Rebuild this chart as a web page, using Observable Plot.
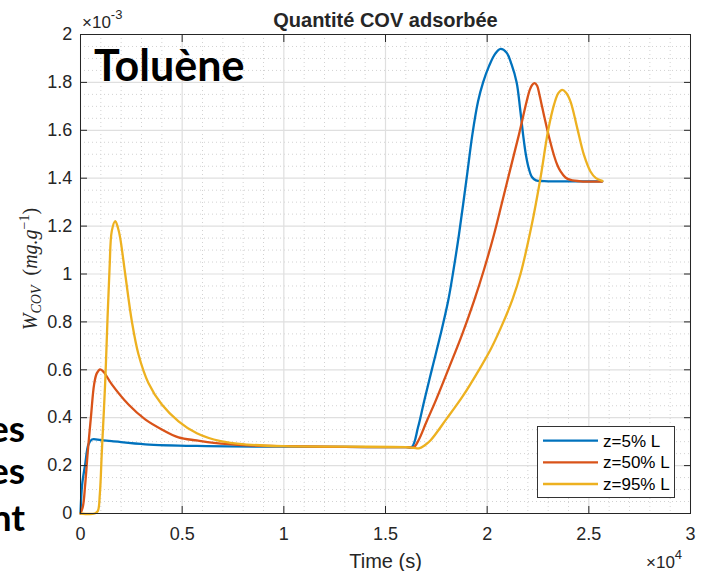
<!DOCTYPE html>
<html><head><meta charset="utf-8">
<script src="https://cdn.jsdelivr.net/npm/d3@7"></script>
<script src="https://cdn.jsdelivr.net/npm/@observablehq/plot@0.6"></script>
<style>body{margin:0;background:#fff;} #chart{position:relative;width:702px;height:571px;overflow:hidden}</style>
</head><body><div id="chart"></div>
<script>
// Series names and colours (MATLAB defaults)
const seriesNames = ["z=5% L", "z=50% L", "z=95% L"];
const seriesColors = ["#0072BD", "#D95319", "#EDB120"];

// Time in units of 1e4 s, W_COV in units of 1e-3 mg/g
const t5 = [0, 0.008, 0.023, 0.039, 0.056, 0.1, 0.154, 0.318, 0.57, 1.0, 1.3, 1.6, 1.63, 1.66, 1.69, 1.73, 1.771, 1.808, 1.835, 1.861, 1.899, 1.927, 1.955, 1.98, 2.01, 2.04, 2.066, 2.095, 2.12, 2.145, 2.162, 2.177, 2.19, 2.204, 2.22, 2.24, 2.28, 2.566];
const w5 = [0, 0.12, 0.205, 0.288, 0.309, 0.306, 0.302, 0.289, 0.282, 0.279, 0.278, 0.277, 0.278, 0.36, 0.469, 0.608, 0.748, 0.887, 1.02, 1.163, 1.4, 1.581, 1.72, 1.8, 1.87, 1.92, 1.94, 1.925, 1.875, 1.8, 1.69, 1.58, 1.5, 1.443, 1.405, 1.391, 1.388, 1.387];

const t50 = [0, 0.012, 0.023, 0.036, 0.051, 0.067, 0.08, 0.097, 0.115, 0.154, 0.236, 0.318, 0.40, 0.482, 0.572, 0.656, 0.82, 1.0, 1.3, 1.6, 1.64, 1.665, 1.70, 1.746, 1.812, 1.877, 1.935, 1.985, 2.033, 2.074, 2.115, 2.156, 2.194, 2.21, 2.222, 2.233, 2.245, 2.258, 2.271, 2.288, 2.304, 2.328, 2.345, 2.361, 2.385, 2.41, 2.46, 2.566];
const w50 = [0, 0.03, 0.12, 0.26, 0.40, 0.539, 0.585, 0.602, 0.59, 0.539, 0.455, 0.393, 0.351, 0.318, 0.305, 0.295, 0.285, 0.281, 0.278, 0.277, 0.277, 0.31, 0.38, 0.469, 0.608, 0.748, 0.887, 1.02, 1.163, 1.302, 1.442, 1.581, 1.72, 1.77, 1.79, 1.797, 1.787, 1.745, 1.695, 1.63, 1.573, 1.497, 1.455, 1.428, 1.403, 1.393, 1.387, 1.386];

const t95 = [0, 0.07, 0.085, 0.095, 0.105, 0.121, 0.133, 0.143, 0.154, 0.171, 0.185, 0.195, 0.22, 0.253, 0.285, 0.334, 0.40, 0.482, 0.572, 0.689, 0.82, 1.0, 1.3, 1.6, 1.64, 1.664, 1.69, 1.722, 1.80, 1.88, 1.96, 2.02, 2.08, 2.125, 2.164, 2.218, 2.262, 2.30, 2.33, 2.35, 2.369, 2.388, 2.41, 2.443, 2.476, 2.508, 2.535, 2.566];
const w95 = [0, 0, 0.01, 0.08, 0.26, 0.539, 0.817, 1.026, 1.18, 1.221, 1.19, 1.152, 0.999, 0.80, 0.665, 0.545, 0.455, 0.385, 0.335, 0.302, 0.288, 0.281, 0.279, 0.277, 0.274, 0.272, 0.283, 0.306, 0.395, 0.49, 0.60, 0.69, 0.80, 0.895, 1.0, 1.2, 1.4, 1.6, 1.71, 1.755, 1.769, 1.757, 1.72, 1.609, 1.497, 1.428, 1.40, 1.389];

// Axis ticks and labels
const xTicks = [0, 0.5, 1, 1.5, 2, 2.5, 3];
const xTickLabels = ["0", "0.5", "1", "1.5", "2", "2.5", "3"];
const yTicks = [0, 0.2, 0.4, 0.6, 0.8, 1, 1.2, 1.4, 1.6, 1.8, 2];
const yTickLabels = ["0", "0.2", "0.4", "0.6", "0.8", "1", "1.2", "1.4", "1.6", "1.8", "2"];
const xMinor = d3.range(0, 31).map(i => i / 10).filter(v => !xTicks.some(t => Math.abs(t - v) < 1e-9));
const yMinor = d3.range(0, 41).map(i => i / 20).filter(v => !yTicks.some(t => Math.abs(t - v) < 1e-9));

const series = [
  {name: seriesNames[0], t: t5, w: w5},
  {name: seriesNames[1], t: t50, w: w50},
  {name: seriesNames[2], t: t95, w: w95}
];
const data = [];
series.forEach(s => s.t.forEach((t, i) => data.push({t, w: s.w[i], z: s.name})));

const fmtX = d => xTickLabels[xTicks.indexOf(d)];
const fmtY = d => yTickLabels[yTicks.indexOf(d)];

const chart = Plot.plot({
  width: 702, height: 571,
  marginLeft: 80, marginRight: 12, marginTop: 34, marginBottom: 58,
  style: {fontFamily: "'Liberation Sans', Arial, sans-serif", fontSize: "18px", color: "#262626", background: "#fff"},
  x: {domain: [0, 3]},
  y: {domain: [0, 2]},
  color: {domain: seriesNames, range: seriesColors},
  marks: [
    Plot.gridX(xMinor, {stroke: "#d2d2d2", strokeOpacity: 1, strokeDasharray: "1,3"}),
    Plot.gridY(yMinor, {stroke: "#d2d2d2", strokeOpacity: 1, strokeDasharray: "1,3"}),
    Plot.gridX(xTicks, {stroke: "#dfdfdf", strokeOpacity: 1, strokeWidth: 1.2}),
    Plot.gridY(yTicks, {stroke: "#dfdfdf", strokeOpacity: 1, strokeWidth: 1.2}),
    Plot.line(data, {x: "t", y: "w", stroke: "z", z: "z", strokeWidth: 2.3, curve: "catmull-rom"}),
    Plot.frame({stroke: "#262626", strokeWidth: 1}),
    Plot.axisX(xTicks, {anchor: "bottom", tickSize: -7, tickPadding: 21, tickFormat: fmtX, label: null, fontSize: 18}),
    Plot.axisX(xTicks, {anchor: "top", tickSize: -7, tickFormat: () => "", label: null}),
    Plot.axisY(yTicks, {anchor: "left", tickSize: -7, tickPadding: 15.3, tickFormat: fmtY, label: null, fontSize: 18}),
    Plot.axisY(yTicks, {anchor: "right", tickSize: -7, tickFormat: () => "", label: null}),
    Plot.text(["Time (s)"], {frameAnchor: "bottom", lineAnchor: "middle", dy: 48, fontSize: 20}),
    Plot.text(["Quantité COV adsorbée"], {frameAnchor: "top", lineAnchor: "middle", dy: -14, fontWeight: "bold", fontSize: 20})
  ]
});
document.getElementById("chart").appendChild(chart);

// Annotations
const svg = d3.select(chart);
const g = svg.append("g").attr("fill", "#262626").attr("text-anchor", "start")
  .style("font-family", "'Liberation Sans', Arial, sans-serif");

// x10^-3 multiplier
const m1 = g.append("text").attr("x", 82).attr("y", 28).style("font-size", "17px");
m1.append("tspan").text("×10");
m1.append("tspan").attr("dy", -9).style("font-size", "13px").text("-3");
// x10^4 multiplier
const m2 = g.append("text").attr("x", 646).attr("y", 568).style("font-size", "17px");
m2.append("tspan").text("×10");
m2.append("tspan").attr("dy", -9).style("font-size", "13px").text("4");

// Y label
const yl = g.append("text")
  .attr("transform", "translate(37,269) rotate(-90)")
  .attr("text-anchor", "middle")
  .style("font-family", "'Liberation Serif', 'DejaVu Serif', serif")
  .style("font-size", "20px");
yl.append("tspan").style("font-style", "italic").text("W");
yl.append("tspan").style("font-style", "italic").style("font-size", "14px").attr("dy", 4).text("COV");
yl.append("tspan").attr("dy", -4).text("\u2002(");
yl.append("tspan").style("font-style", "italic").text("mg.g");
yl.append("tspan").style("font-size", "14px").attr("dy", -8).text("−1");
yl.append("tspan").attr("dy", 8).text(")");

// Legend
const lg = svg.append("g").attr("text-anchor", "start").style("font-family", "'Liberation Sans', Arial, sans-serif");
lg.append("rect").attr("x", 537.5).attr("y", 426.5).attr("width", 137).attr("height", 71)
  .attr("fill", "#fff").attr("stroke", "#333").attr("stroke-width", 1);
const rows = [440.7, 462.3, 484];
seriesNames.forEach((n, i) => {
  lg.append("line").attr("x1", 543).attr("x2", 598).attr("y1", rows[i]).attr("y2", rows[i])
    .attr("stroke", seriesColors[i]).attr("stroke-width", 2.3);
  lg.append("text").attr("x", 603).attr("y", rows[i] + 6).style("font-size", "17px").attr("fill", "#000").text(n);
});

// Slide overlay text
const ov = svg.append("g").attr("text-anchor", "start").style("font-family", "Lato, 'Open Sans', sans-serif")
  .style("font-weight", "bold").attr("fill", "#000");
ov.append("text").attr("x", 94).attr("y", 81).style("font-size", "43px").text("Toluène");
[["es", 442], ["es", 484], ["nt", 531]].forEach(([s, y]) => {
  ov.append("text").attr("x", 25).attr("y", y).attr("text-anchor", "end").style("font-size", "37px").text(s);
});
</script>
</body></html>
